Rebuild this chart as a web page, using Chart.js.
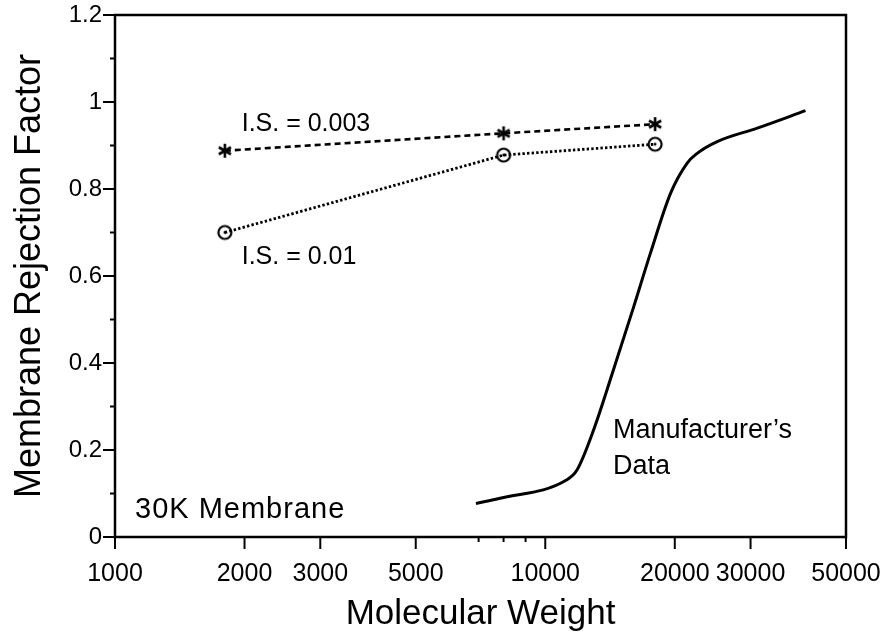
<!DOCTYPE html>
<html>
<head>
<meta charset="utf-8">
<script src="https://cdn.jsdelivr.net/npm/chart.js@4.4.1/dist/chart.umd.min.js"></script>
<style>
  html, body { margin: 0; padding: 0; background: #fff; }
</style>
</head>
<body>
<canvas id="grafico" width="885" height="637"></canvas>
<script>
// acá tengo los datos
const pesos = [1800, 8000, 18000]
const rechazo003 = [0.888, 0.928, 0.949]
const rechazo001 = [0.700, 0.878, 0.903]

// curva del fabricante
const pesosFabricante = [6900, 7850, 11200, 11850, 12950, 14400, 16050, 17550, 19550, 21350, 22550, 25100, 31100, 40250]
const rechazoFabricante = [0.077, 0.089, 0.131, 0.154, 0.246, 0.384, 0.529, 0.652, 0.790, 0.859, 0.882, 0.909, 0.940, 0.980]

const ticksX = [1000, 2000, 3000, 5000, 10000, 20000, 30000, 50000]
const ticksXmenores = [7000, 8000, 9000]
const ticksY = [0, 0.2, 0.4, 0.6, 0.8, 1, 1.2]
const etiquetasY = ['0', '0.2', '0.4', '0.6', '0.8', '1', '1.2']
const ticksYmenores = [0.1, 0.3, 0.5, 0.7, 0.9, 1.1]

const fuente = '"Liberation Sans", Arial, Helvetica, sans-serif'

// textos dentro del gráfico (en coordenadas de datos)
const textos = [
    { texto: 'I.S. = 0.003', x: 1970, y: 0.933, size: 25 },
    { texto: 'I.S. = 0.01', x: 1970, y: 0.628, size: 25 },
    { texto: 'Manufacturer’s', x: 14370, y: 0.228, size: 27 },
    { texto: 'Data', x: 14370, y: 0.145, size: 27 },
    { texto: '30K Membrane', x: 1113, y: 0.044, size: 29, espacio: 1 }
]

const juntar = (xs, ys) => xs.map((v, i) => ({ x: v, y: ys[i] }))

// marcadores: asterisco y círculo con punto
const asterisco = document.createElement('canvas')
asterisco.width = 20
asterisco.height = 20
{
    const c = asterisco.getContext('2d')
    c.strokeStyle = '#000'
    c.lineWidth = 2.6
    c.translate(10, 10)
    for (let i = 0; i < 3; i++) {
        c.beginPath()
        c.moveTo(0, -7)
        c.lineTo(0, 7)
        c.stroke()
        c.rotate(Math.PI / 3)
    }
}

const circulo = document.createElement('canvas')
circulo.width = 20
circulo.height = 20
{
    const c = circulo.getContext('2d')
    c.strokeStyle = '#000'
    c.fillStyle = '#000'
    c.lineWidth = 2.2
    c.beginPath()
    c.arc(10, 10, 6.5, 0, Math.PI * 2)
    c.stroke()
    c.beginPath()
    c.arc(10, 10, 1.4, 0, Math.PI * 2)
    c.fill()
}

// marco, marcas de los ejes y textos
const extras = {
    id: 'extras',
    afterDraw(chart) {
        const { ctx, chartArea: a, scales: { x, y } } = chart
        ctx.save()
        ctx.strokeStyle = '#000'
        ctx.lineWidth = 2.5
        ctx.strokeRect(a.left, a.top, a.right - a.left, a.bottom - a.top)

        ctx.lineWidth = 2
        const raya = (x1, y1, x2, y2) => {
            ctx.beginPath()
            ctx.moveTo(x1, y1)
            ctx.lineTo(x2, y2)
            ctx.stroke()
        }
        ticksX.forEach(v => { const p = x.getPixelForValue(v); raya(p, a.bottom, p, a.bottom + 12) })
        ticksXmenores.forEach(v => { const p = x.getPixelForValue(v); raya(p, a.bottom, p, a.bottom + 5) })
        ticksY.forEach(v => { const p = y.getPixelForValue(v); raya(a.left - 12, p, a.left, p) })
        ticksYmenores.forEach(v => { const p = y.getPixelForValue(v); raya(a.left - 5, p, a.left, p) })

        ctx.fillStyle = '#000'
        ctx.textAlign = 'left'
        ctx.textBaseline = 'alphabetic'
        textos.forEach(t => {
            ctx.font = t.size + 'px ' + fuente
            ctx.letterSpacing = (t.espacio || 0) + 'px'
            ctx.fillText(t.texto, x.getPixelForValue(t.x), y.getPixelForValue(t.y))
        })
        ctx.restore()
    }
}

export_grafico()

function export_grafico() {
    const contenedor = document.getElementById('grafico')
    return new Chart(contenedor, {
        type: 'line',
        data: {
            datasets: [{
                label: 'I.S. = 0.003',
                data: juntar(pesos, rechazo003),
                borderColor: '#000',
                borderWidth: 2.6,
                borderDash: [6, 4],
                pointStyle: asterisco,
                pointRadius: 8
            }, {
                label: 'I.S. = 0.01',
                data: juntar(pesos, rechazo001),
                borderColor: '#000',
                borderWidth: 2.8,
                borderDash: [2.4, 2.2],
                pointStyle: circulo,
                pointRadius: 8
            }, {
                label: 'Manufacturer’s Data',
                data: juntar(pesosFabricante, rechazoFabricante),
                borderColor: '#000',
                borderWidth: 3,
                pointRadius: 0,
                cubicInterpolationMode: 'monotone'
            }]
        },
        options: {
            responsive: false,
            animation: false,
            devicePixelRatio: 1,
            layout: { padding: { top: 15, right: 39, bottom: 0, left: 0 } },
            plugins: { legend: { display: false }, tooltip: { enabled: false } },
            scales: {
                x: {
                    type: 'logarithmic',
                    min: 1000,
                    max: 50000,
                    afterBuildTicks: s => { s.ticks = ticksX.map(v => ({ value: v })) },
                    afterFit: s => {
                        s.height = 100
                        s.paddingLeft = 0
                        s.paddingRight = 0
                    },
                    grid: { display: false, drawTicks: false },
                    border: { display: false },
                    ticks: {
                        color: '#000',
                        font: { family: fuente, size: 25 },
                        padding: 22,
                        maxRotation: 0,
                        autoSkip: false,
                        callback: v => String(v)
                    },
                    title: {
                        display: true,
                        text: 'Molecular Weight',
                        color: '#000',
                        font: { family: fuente, size: 35 },
                        padding: { top: 0, bottom: 2 }
                    }
                },
                y: {
                    min: 0,
                    max: 1.2,
                    afterBuildTicks: s => { s.ticks = ticksY.map(v => ({ value: v })) },
                    afterFit: s => {
                        s.width = 115
                        s.paddingTop = 0
                        s.paddingBottom = 0
                    },
                    grid: { display: false, drawTicks: false },
                    border: { display: false },
                    ticks: {
                        color: '#000',
                        font: { family: fuente, size: 24 },
                        padding: 13,
                        callback: (v, i) => etiquetasY[i]
                    },
                    title: {
                        display: true,
                        text: 'Membrane Rejection Factor',
                        color: '#000',
                        font: { family: fuente, size: 36 },
                        padding: { top: 8, bottom: 0 }
                    }
                }
            }
        },
        plugins: [extras]
    })
}
</script>
</body>
</html>
